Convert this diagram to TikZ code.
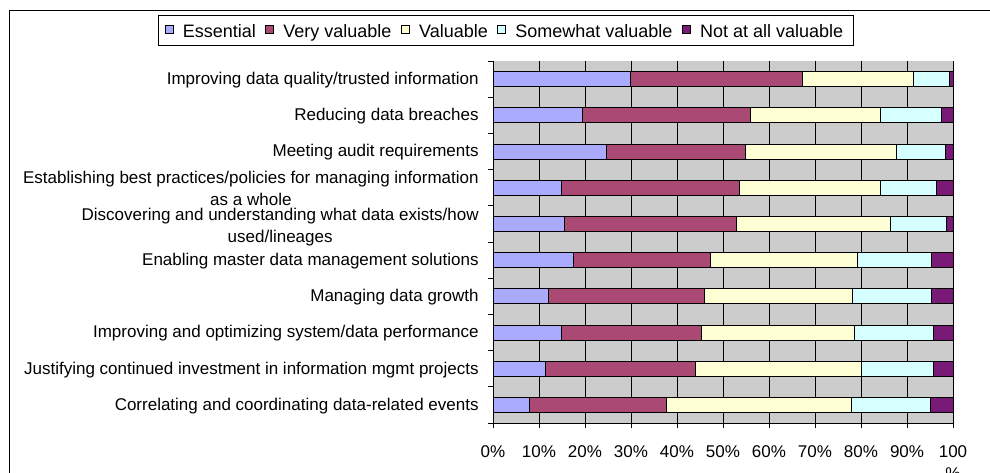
\documentclass[tikz,border=0pt]{standalone}
\usepackage{fontspec}
\setmainfont{Liberation Sans}
\usetikzlibrary{positioning}
\definecolor{essential}{HTML}{AAAAFF}
\definecolor{veryval}{HTML}{AA4A74}
\definecolor{valuable}{HTML}{FFFFD6}
\definecolor{somewhat}{HTML}{D6FFFF}
\definecolor{notatall}{HTML}{7A1A78}
\definecolor{plotgray}{HTML}{CCCCCC}
\begin{document}
\begin{tikzpicture}[x=1pt, y=-1pt, line width=0.8pt,
  every node/.style={font=\fontsize{17}{22}\selectfont, inner sep=0pt},
  seg/.style={draw=black, line width=0.8pt},
  keybox/.style={draw, minimum size=8pt, line width=0.8pt},
  keytext/.style={font=\fontsize{18}{22}\selectfont, text height=16pt, text depth=0pt},
  ticklabel/.style={text height=12pt, text depth=3.5pt},
  catlabel/.style={anchor=east, align=center}]
\useasboundingbox (0,0) rectangle (990,473);
\draw[line width=1.5pt] (990,10.5) -| (9.5,473);
% legend
\node[draw, line width=1pt, minimum width=695pt, minimum height=30pt, anchor=north west] (legend) at (158,15) {};
\node[keybox, fill=essential] (k1) at (169,29.5) {};
\node[keytext, right=9pt of k1] (t1) {Essential};
\foreach \n/\prev/\col/\txt in {2/1/veryval/Very valuable, 3/2/valuable/Valuable, 4/3/somewhat/Somewhat valuable, 5/4/notatall/Not at all valuable} {
	\node[keybox, fill=\col, right=9pt of t\prev] (k\n) {};
	\node[keytext, right=9pt of k\n] (t\n) {\txt};
}
% plot area
\fill[plotgray] (493,61) rectangle (953,423);
\foreach \p in {1,...,10}
	\draw (493+46*\p,61) -- (493+46*\p,423);
\foreach \i/\a/\b/\c/\d/\lab in {
	1/29.8/67.2/91.3/99.3/{Improving data quality/trusted information},
	2/19.5/56.0/84.3/97.5/{Reducing data breaches},
	3/24.7/54.9/87.8/98.3/{Meeting audit requirements},
	4/14.8/53.5/84.3/96.3/{Establishing best practices/policies for managing information\\as a whole},
	5/15.6/53.0/86.4/98.6/{Discovering and understanding what data exists/how\\\smash{used/lineages}},
	6/17.5/47.3/79.2/95.2/{Enabling master data management solutions},
	7/12.0/45.9/78.2/95.4/{Managing data growth},
	8/14.8/45.4/78.5/95.7/{Improving and optimizing system/data performance},
	9/11.3/43.9/80.1/95.7/{Justifying continued investment in information mgmt projects},
	10/7.9/37.8/77.9/95.1/{Correlating and coordinating data-related events}} {
	\pgfmathsetmacro\yc{61+36.2*(\i-0.5)}
	\draw[seg, fill=essential] (493,\yc-7.5) rectangle ({493+4.6*\a},\yc+7.5);
	\draw[seg, fill=veryval] ({493+4.6*\a},\yc-7.5) rectangle ({493+4.6*\b},\yc+7.5);
	\draw[seg, fill=valuable] ({493+4.6*\b},\yc-7.5) rectangle ({493+4.6*\c},\yc+7.5);
	\draw[seg, fill=somewhat] ({493+4.6*\c},\yc-7.5) rectangle ({493+4.6*\d},\yc+7.5);
	\draw[seg, fill=notatall] ({493+4.6*\d},\yc-7.5) rectangle (953,\yc+7.5);
	\node[catlabel] (lab\i) at (479,\yc+1) {\lab};
}
% axes
\draw (493,61) -- (493,423) -- (953,423);
\foreach \k in {0,...,10}
	\draw (488,61+36.2*\k) -- (493,61+36.2*\k);
\foreach \p in {0,...,10}
	\draw (493+46*\p,423) -- (493+46*\p,428);
\foreach \p in {0,...,9} {
	\pgfmathtruncatemacro\pc{10*\p}
	\node[ticklabel] (tick\p) at (493+46*\p,453) {\pc\%};
}
\node[align=center, anchor=north] (tick10) at (953,445) {100\\\%};
\end{tikzpicture}
\end{document}
